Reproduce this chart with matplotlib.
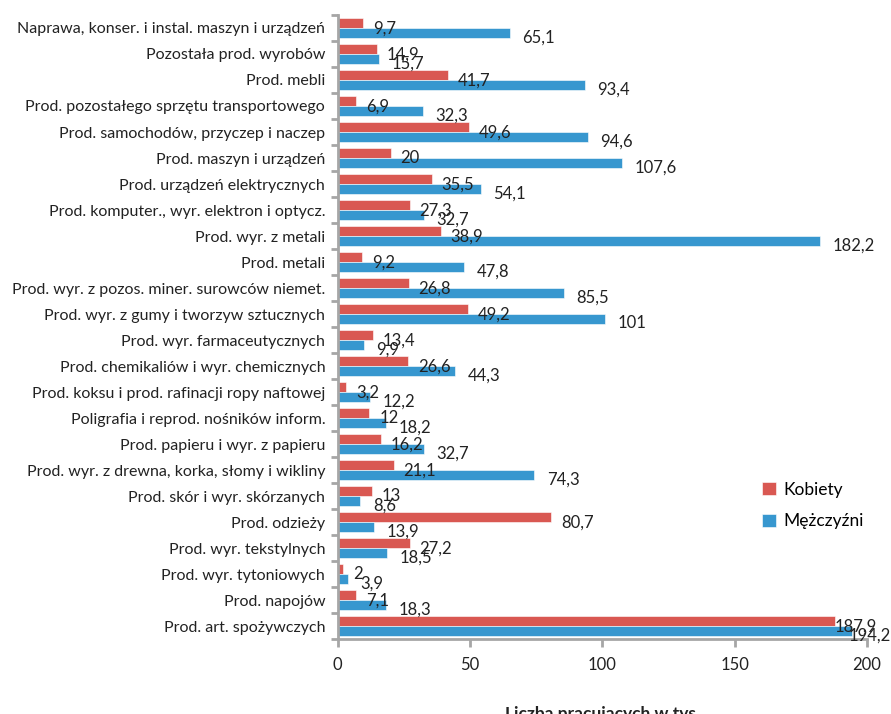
import matplotlib.pyplot as plt
import numpy as np

plt.rcParams['font.family'] = ['Lato', 'DejaVu Sans']

categories = [
    "Naprawa, konser. i instal. maszyn i urządzeń",
    "Pozostała prod. wyrobów",
    "Prod. mebli",
    "Prod. pozostałego sprzętu transportowego",
    "Prod. samochodów, przyczep i naczep",
    "Prod. maszyn i urządzeń",
    "Prod. urządzeń elektrycznych",
    "Prod. komputer., wyr. elektron i optycz.",
    "Prod. wyr. z metali",
    "Prod. metali",
    "Prod. wyr. z pozos. miner. surowców niemet.",
    "Prod. wyr. z gumy i tworzyw sztucznych",
    "Prod. wyr. farmaceutycznych",
    "Prod. chemikaliów i wyr. chemicznych",
    "Prod. koksu i prod. rafinacji ropy naftowej",
    "Poligrafia i reprod. nośników inform.",
    "Prod. papieru i wyr. z papieru",
    "Prod. wyr. z drewna, korka, słomy i wikliny",
    "Prod. skór i wyr. skórzanych",
    "Prod. odzieży",
    "Prod. wyr. tekstylnych",
    "Prod. wyr. tytoniowych",
    "Prod. napojów",
    "Prod. art. spożywczych",
]
kobiety = [9.7, 14.9, 41.7, 6.9, 49.6, 20, 35.5, 27.3, 38.9, 9.2, 26.8, 49.2,
           13.4, 26.6, 3.2, 12, 16.2, 21.1, 13, 80.7, 27.2, 2, 7.1, 187.9]
mezczyzni = [65.1, 15.7, 93.4, 32.3, 94.6, 107.6, 54.1, 32.7, 182.2, 47.8, 85.5, 101,
             9.9, 44.3, 12.2, 18.2, 32.7, 74.3, 8.6, 13.9, 18.5, 3.9, 18.3, 194.2]

red = "#d95852"
blue = "#3797cf"
grey = "#a6a6a6"

fig = plt.figure(figsize=(8.91, 7.14), dpi=100)
ax = fig.add_axes([0.379, 0.105, 0.594, 0.874])

n = len(categories)
y = np.arange(n)
h = 0.4
ax.barh(y - h / 2, kobiety, height=h, color=red, edgecolor="white", linewidth=0.4, label="Kobiety")
ax.barh(y + h / 2, mezczyzni, height=h, color=blue, edgecolor="white", linewidth=0.4, label="Mężczyźni")

def fmt(v):
    return f"{v:g}".replace(".", ",")

# labels near the right edge get pulled in so they stay on the canvas
for yi, v in zip(y - h / 2, kobiety):
    dx = 7 if v < 185 else 0
    ax.annotate(fmt(v), (v, yi), xytext=(dx, -4), textcoords="offset points",
                va="center", ha="left", fontsize=12, color="#222222")
for yi, v in zip(y + h / 2, mezczyzni):
    dx = 9 if v < 185 else -2.5
    ax.annotate(fmt(v), (v, yi), xytext=(dx, -3), textcoords="offset points",
                va="center", ha="left", fontsize=12, color="#222222")

ax.set_ylim(n - 0.5, -0.5)
ax.set_xlim(0, 200)
ax.set_xticks([0, 50, 100, 150, 200])
ax.set_yticks(y)
ax.set_yticklabels(categories, fontsize=11.5, color="#222222")
ax.set_yticks(np.arange(n + 1) - 0.5, minor=True)
ax.tick_params(axis="y", which="major", length=0, pad=9)
ax.tick_params(axis="y", which="minor", length=5, width=2, color=grey)
ax.tick_params(axis="x", length=6, width=2, color=grey, labelsize=12, labelcolor="#222222", pad=7)

for s in ["top", "right"]:
    ax.spines[s].set_visible(False)
for s in ["left", "bottom"]:
    ax.spines[s].set_color(grey)
    ax.spines[s].set_linewidth(2)

ax.set_xlabel("Liczba pracujących w tys.", fontsize=12.5, fontweight="bold", color="#222222", labelpad=24)

fig.legend(loc="upper left", bbox_to_anchor=(0.838, 0.347), frameon=False, fontsize=12.5,
           handlelength=0.8, handleheight=0.8, labelspacing=0.9, handletextpad=0.4)

fig.savefig("out.png", dpi=100)
